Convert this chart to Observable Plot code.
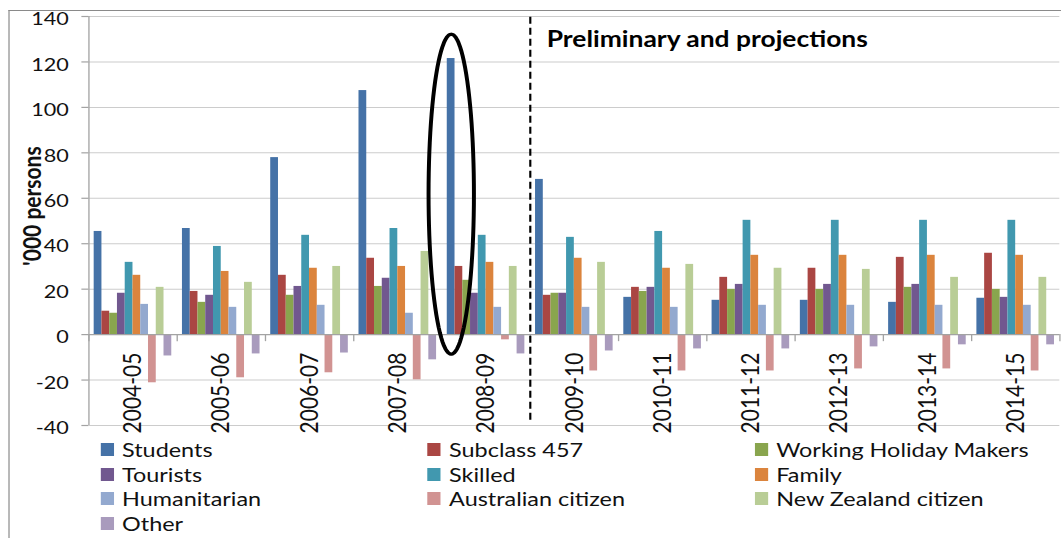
<!DOCTYPE html>
<html>
<head>
<meta charset="utf-8">
<script src="https://cdn.jsdelivr.net/npm/d3@7"></script>
<script src="https://cdn.jsdelivr.net/npm/@observablehq/plot@0.6"></script>
<style>
  html, body { margin: 0; padding: 0; background: #fff; overflow: hidden; }
  #wrap { position: relative; width: 884px; height: 538px; transform: scaleX(1.20023); transform-origin: 0 0;
          font-family: Lato, sans-serif; color: #111; }
  #frame { position: absolute; left: 6.9px; top: 9.5px; width: 2000px; height: 1000px;
           border-left: 1.25px solid #8a8a8a; border-top: 1.5px solid #8a8a8a; pointer-events: none; }
  #legend { display: grid; grid-template-columns: repeat(3, 272.5px); padding-left: 83.8px; }
  .item { display: flex; align-items: center; height: 24.7px; font-size: 19.5px; white-space: nowrap; }
  .sw { width: 11.1px; height: 13px; margin-right: 6.8px; flex: none; }
</style>
</head>
<body>
<div id="wrap"><div id="chart"></div><div id="legend"></div><div id="frame"></div></div>
<script>
// ---- data ('000 persons) ----
const years = ["2004-05","2005-06","2006-07","2007-08","2008-09","2009-10","2010-11","2011-12","2012-13","2013-14","2014-15"];
const seriesNames = ["Students","Subclass 457","Working Holiday Makers","Tourists","Skilled","Family","Humanitarian","Australian citizen","New Zealand citizen","Other"];
const seriesColors = ["#4572A7","#AA4643","#89A54E","#71588F","#4198AF","#DB843D","#93A9CF","#D19392","#B9CD96","#A99BBD"];

const students          = [45.4, 46.7, 77.9, 107.4, 121.5, 68.3, 16.4, 15.1, 15.1, 14.2, 16.0];
const subclass457       = [10.3, 19.0, 26.1, 33.6, 30.0, 17.3, 20.8, 25.2, 29.2, 34.0, 35.8];
const workingHoliday    = [9.4, 14.2, 17.3, 21.2, 23.9, 18.2, 19.0, 19.9, 19.9, 20.8, 19.9];
const tourists          = [18.2, 17.3, 21.2, 24.8, 18.2, 18.2, 20.8, 22.1, 22.1, 22.1, 16.4];
const skilled           = [31.8, 38.8, 43.7, 46.7, 43.7, 42.8, 45.4, 50.3, 50.3, 50.3, 50.3];
const family            = [26.1, 27.8, 29.2, 30.0, 31.8, 33.6, 29.2, 34.9, 34.9, 34.9, 34.9];
const humanitarian      = [13.3, 12.0, 12.9, 9.4, 12.0, 12.0, 12.0, 12.9, 12.9, 12.9, 12.9];
const australianCitizen = [-21.2, -19.0, -16.8, -19.9, -2.3, -16.0, -16.0, -16.0, -15.1, -15.1, -16.0];
const nzCitizen         = [20.8, 23.0, 30.0, 36.6, 30.0, 31.8, 30.9, 29.2, 28.7, 25.2, 25.2];
const other             = [-9.4, -8.5, -8.1, -11.1, -8.5, -7.2, -6.3, -6.3, -5.4, -4.5, -4.5];

const yTicks = [-40, -20, 0, 20, 40, 60, 80, 100, 120, 140];
const yTitle = "'000 persons";
const projectionStart = "2009-10";
const annotationText = "Preliminary and projections";
const highlight = {year: "2008-09", series: "Students", low: -8.6, high: 132.2, halfWidth: 0.257};

// ---- table built from the arrays ----
const seriesValues = [students, subclass457, workingHoliday, tourists, skilled, family, humanitarian, australianCitizen, nzCitizen, other];
const catPad = 0.121;                                  // share of a category left empty
const barFrac = (1 - catPad) / seriesNames.length;     // share of a category for one bar
const rows = [];
years.forEach((yr, i) => seriesNames.forEach((s, j) => {
  const x1 = i + catPad / 2 + j * barFrac;
  rows.push({year: yr, series: s, value: seriesValues[j][i], x1, x2: x1 + barFrac});
}));
const boundaries = d3.range(years.length + 1);
const projIndex = years.indexOf(projectionStart);
const hiX = years.indexOf(highlight.year) + catPad / 2 + (seriesNames.indexOf(highlight.series) + 0.5) * barFrac;
const hiMid = (highlight.low + highlight.high) / 2, hiR = (highlight.high - highlight.low) / 2;
const ellipse = d3.range(97).map(k => {
  const t = k / 96 * 2 * Math.PI;
  return {ex: hiX + highlight.halfWidth * Math.cos(t), ey: hiMid + hiR * Math.sin(t)};
});

const axisGray = "#a3a3a3";
const plot = Plot.plot({
  width: 884, height: 437,
  marginLeft: 73.6, marginRight: 1.4, marginTop: 16, marginBottom: 12,
  style: {fontFamily: "Lato, sans-serif", background: "transparent", overflow: "visible"},
  x: {domain: [0, years.length], axis: null},
  y: {domain: [-40, 140], axis: null},
  color: {domain: seriesNames, range: seriesColors},
  marks: [
    Plot.gridY(yTicks, {stroke: "#cccccc", strokeOpacity: 1}),
    Plot.rectY(rows, {x1: "x1", x2: "x2", y1: 0, y2: "value", fill: "series"}),
    Plot.ruleY([0], {stroke: axisGray, strokeWidth: 1.2}),
    Plot.ruleX(boundaries, {y1: 0, y2: -3.1, stroke: axisGray, strokeWidth: 1.1}),
    Plot.ruleX([0], {stroke: axisGray, strokeWidth: 1.1}),
    Plot.axisY(yTicks, {tickSize: 5.8, fill: "none", stroke: axisGray, strokeWidth: 1.2, label: null}),
    Plot.axisY(yTicks, {tickSize: 5.8, tickPadding: 11, stroke: "none", fill: "#111", fontSize: 18, dy: 3,
                        tickFormat: d => String(d), label: null}),
    Plot.text(years, {x: (d, i) => i + 0.5, y: 0, text: d => d, rotate: -90, textAnchor: "end", dy: 18, fontSize: 21, fill: "#111"}),
    Plot.text([yTitle], {frameAnchor: "left", textAnchor: "middle", rotate: -90, dx: -47, dy: -15,
                         fontWeight: "bold", fontSize: 21, fill: "#111"}),
    Plot.ruleX([projIndex], {y1: -37.7, y2: 140, stroke: "#000", strokeWidth: 1.8, strokeDasharray: "7,4"}),
    Plot.text([annotationText], {x: projIndex, y: 140, dx: 13.7, dy: 23.7, textAnchor: "start", fontWeight: "bold", fontSize: 22, fill: "#000"}),
    Plot.line(ellipse, {x: "ex", y: "ey", curve: "linear-closed", stroke: "#000", strokeWidth: 3.3})
  ]
});
document.getElementById("chart").appendChild(plot);

// ---- legend ----
const legend = d3.select("#legend");
seriesNames.forEach((s, i) => {
  const it = legend.append("div").attr("class", "item");
  it.append("div").attr("class", "sw").style("background", seriesColors[i]);
  it.append("span").text(s);
});
</script>
</body>
</html>
